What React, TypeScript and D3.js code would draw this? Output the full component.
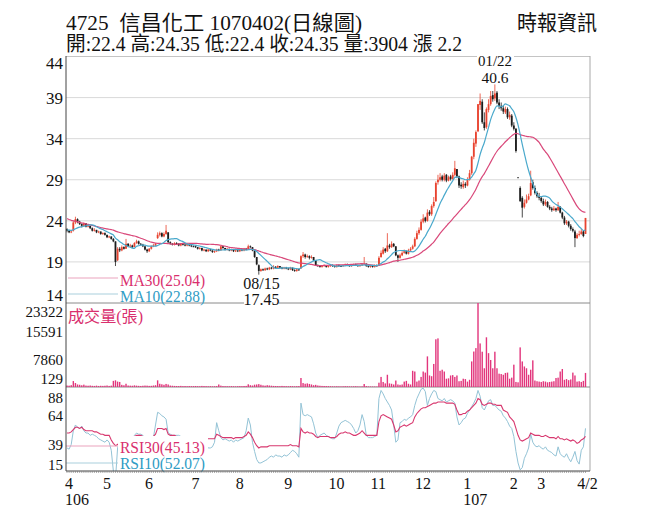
import React from 'react';
import * as d3 from 'd3';

const W = 656;
const H = 525;

const PINK = '#d92f6e';
const TEAL = '#2f9cc4';
const UP = '#e8432f';
const DOWN = '#1c1c1c';
const SERIF = '"Liberation Serif", "Times New Roman", serif';
const CJK = '"Liberation Serif", "Noto Sans CJK TC", serif';

// axis ticks / labels
const monthTicks = [0, 18, 38, 60, 81, 104, 125, 145, 166, 189, 211, 224];
const monthLabels = ['4', '5', '6', '7', '8', '9', '10', '11', '12', '1', '2', '3'];
const yearTicks = [0, 189];
const yearLabels = ['106', '107'];
const priceTicks = [44, 39, 34, 29, 24, 19, 14];
const priceGrid = [39, 34, 29, 24, 19];
const volTicks = [23322, 15591, 7860, 129];
const rsiTicks = [88, 64, 39, 15];

// closes before the first visible day (for the moving averages)
const priorCloses = [
  25.6, 25.8, 25.5, 25.9, 26.0, 25.7, 25.4, 25.2, 25.5, 25.1, 24.9, 24.7, 24.8, 24.5, 24.4,
  24.6, 24.2, 23.9, 23.6, 23.4, 23.2, 23.0, 22.9, 23.1, 22.8, 22.7, 22.9, 23.0, 22.8,
];

const opens = [
  // Apr
  23.0, 22.8, 22.6, 22.8, 23.8, 24.2, 23.9, 23.6, 23.4, 23.7, 23.3, 23.4, 23.1, 22.8, 22.9, 22.6, 22.7, 22.4,
  // May
  22.5, 22.3, 22.0, 22.1, 21.8, 21.5, 19.2, 20.6, 20.4, 20.8, 20.6, 21.2, 20.9, 21.0, 20.8, 21.3, 21.5, 21.2, 21.1, 20.9,
  // Jun
  20.5, 20.3, 20.6, 20.9, 21.0, 21.9, 22.3, 22.5, 22.1, 22.4, 22.6, 21.4, 21.2, 21.1, 21.3, 21.2, 21.0, 21.2, 21.1, 21.0, 21.2, 21.0,
  // Jul
  20.9, 20.9, 20.8, 20.6, 20.7, 20.4, 20.5, 20.3, 20.5, 20.4, 20.2, 20.3, 20.5, 20.4, 20.9, 20.7, 20.5, 20.6, 20.4, 20.5, 20.3,
  // Aug
  20.4, 20.3, 20.5, 20.4, 20.6, 20.5, 20.9, 20.8, 20.4, 19.6, 18.6, 17.9, 18.1, 18.0, 18.2, 18.1, 18.3, 18.2, 18.4, 18.3, 18.5, 18.3, 18.2,
  // Sep
  18.3, 18.2, 18.1, 18.3, 18.0, 17.9, 18.1, 18.2, 19.7, 19.9, 19.6, 19.7, 19.5, 19.6, 19.2, 18.6, 18.5, 18.4, 18.5, 18.6, 18.4,
  // Oct
  18.5, 18.6, 18.5, 18.4, 18.6, 18.5, 18.5, 18.6, 18.7, 18.6, 18.5, 18.6, 18.7, 18.6, 18.5, 18.6, 18.7, 18.8, 18.5, 18.4,
  // Nov
  18.5, 18.4, 18.6, 18.6, 19.6, 20.0, 20.6, 20.3, 21.0, 20.8, 21.2, 20.9, 19.8, 19.5, 19.8, 20.1, 20.3, 20.0, 20.4, 20.6, 20.9,
  // Dec
  21.8, 22.5, 22.9, 23.9, 24.4, 24.0, 25.1, 24.8, 25.8, 26.4, 28.7, 29.0, 29.4, 29.0, 29.6, 28.9, 29.4, 29.1, 29.6, 30.3, 29.4, 28.4, 28.1,
  // Jan
  28.5, 28.3, 29.0, 29.8, 31.8, 33.4, 34.9, 38.1, 38.5, 36.0, 35.4, 37.5, 38.2, 39.3, 38.9, 39.6, 38.4, 38.0, 37.7, 37.2, 37.6, 36.6,
  // Feb
  36.8, 35.6, 35.2, 29.3, 28.0, 26.8, 25.7, 26.2, 26.6, 27.1, 28.7, 28.0, 27.4,
  // Mar
  27.0, 26.8, 26.4, 26.0, 26.3, 25.7, 25.5, 25.3, 25.5, 25.3, 25.7, 25.0, 24.4, 23.7, 23.9, 23.4, 23.0, 22.7, 21.9, 22.3, 22.4, 22.7,
  // Apr 2
  22.4,
];

const highs = [
  23.1, 22.9, 22.9, 24.0, 24.5, 24.3, 24.0, 23.7, 23.8, 23.7, 23.6, 23.4, 23.2, 23.1, 22.9, 22.8, 22.7, 22.6,
  22.6, 22.3, 22.2, 22.1, 21.9, 21.5, 20.8, 20.8, 21.0, 20.9, 21.8, 21.3, 21.2, 21.1, 21.4, 21.7, 21.6, 21.3, 21.2, 20.9,
  20.6, 20.7, 21.0, 21.2, 21.3, 22.6, 22.7, 22.6, 22.6, 23.5, 22.6, 21.5, 21.3, 21.4, 21.4, 21.3, 21.3, 21.3, 21.2, 21.3, 21.2, 21.1,
  21.0, 21.0, 20.8, 20.8, 20.7, 20.6, 20.5, 20.6, 20.6, 20.4, 20.4, 20.6, 20.6, 21.0, 20.9, 20.7, 20.7, 20.6, 20.6, 20.5, 20.5,
  20.5, 20.6, 20.6, 20.7, 20.7, 21.1, 21.0, 20.8, 20.4, 19.6, 18.7, 18.2, 18.2, 18.3, 18.3, 18.4, 18.4, 18.6, 18.5, 18.6, 18.5, 18.4, 18.4,
  18.4, 18.3, 18.4, 18.3, 18.1, 18.2, 18.2, 19.8, 20.2, 20.0, 19.9, 19.8, 19.8, 19.6, 19.2, 18.7, 18.6, 18.6, 18.7, 18.6, 18.6,
  18.7, 18.7, 18.6, 18.7, 18.7, 18.6, 18.7, 18.8, 18.8, 18.7, 18.7, 18.8, 18.8, 18.7, 18.7, 18.8, 19.6, 18.8, 18.6, 18.6,
  18.6, 18.7, 18.7, 19.7, 20.4, 20.8, 20.7, 22.5, 21.2, 21.5, 21.3, 20.9, 19.9, 20.0, 20.3, 20.5, 20.4, 20.6, 20.8, 21.1, 22.0,
  22.8, 23.2, 24.2, 24.8, 24.5, 25.4, 25.3, 26.0, 26.9, 28.8, 29.6, 29.8, 29.6, 29.8, 29.7, 29.5, 29.6, 29.9, 31.3, 30.3, 29.5, 28.7, 28.9,
  28.7, 29.3, 30.2, 31.9, 34.0, 35.0, 38.2, 39.5, 38.8, 37.2, 37.8, 38.8, 39.8, 39.8, 40.6, 39.8, 38.8, 38.4, 38.0, 37.9, 37.8, 37.3,
  37.0, 36.0, 35.3, 29.3, 28.2, 27.0, 26.6, 27.2, 27.3, 30.1, 29.0, 28.3, 27.6,
  27.4, 27.0, 26.7, 26.6, 26.4, 25.9, 25.7, 25.8, 25.6, 26.3, 25.8, 25.1, 24.6, 24.1, 24.0, 23.6, 23.2, 22.9, 22.5, 22.8, 23.0, 22.8,
  24.35,
];

const lows = [
  22.6, 22.5, 22.5, 22.7, 23.6, 23.7, 23.5, 23.2, 23.3, 23.2, 23.2, 23.0, 22.7, 22.7, 22.5, 22.5, 22.3, 22.3,
  22.2, 21.9, 21.9, 21.7, 21.4, 18.5, 19.1, 20.2, 20.3, 20.5, 20.6, 20.8, 20.8, 20.7, 20.8, 21.2, 21.1, 21.0, 20.8, 20.4,
  20.1, 20.2, 20.5, 20.8, 20.9, 21.8, 22.1, 22.0, 22.0, 22.3, 21.3, 21.1, 21.0, 21.0, 21.1, 20.9, 20.9, 21.0, 20.9, 20.9, 20.9, 20.8,
  20.8, 20.7, 20.5, 20.5, 20.3, 20.3, 20.2, 20.2, 20.3, 20.1, 20.1, 20.2, 20.3, 20.4, 20.6, 20.4, 20.4, 20.3, 20.3, 20.2, 20.2,
  20.2, 20.2, 20.3, 20.3, 20.4, 20.5, 20.7, 20.3, 19.5, 18.6, 17.45, 17.8, 17.9, 17.9, 18.0, 18.0, 18.1, 18.1, 18.2, 18.2, 18.2, 18.1, 18.1,
  18.1, 18.0, 18.0, 17.9, 17.8, 17.8, 17.9, 18.2, 19.5, 19.4, 19.5, 19.3, 19.4, 19.1, 18.5, 18.4, 18.3, 18.3, 18.4, 18.3, 18.3,
  18.4, 18.4, 18.3, 18.3, 18.4, 18.4, 18.4, 18.5, 18.5, 18.4, 18.4, 18.5, 18.5, 18.4, 18.4, 18.5, 18.6, 18.4, 18.3, 18.3,
  18.3, 18.3, 18.4, 18.5, 19.5, 19.9, 20.1, 20.2, 20.6, 20.7, 20.8, 19.7, 19.0, 19.4, 19.7, 20.0, 19.9, 19.9, 20.3, 20.5, 20.8,
  21.7, 22.3, 22.8, 23.7, 23.8, 23.9, 24.6, 24.6, 25.6, 26.3, 28.4, 28.8, 28.8, 28.8, 28.7, 28.8, 28.9, 29.0, 29.4, 29.2, 28.0, 27.9, 27.9,
  28.0, 28.2, 28.9, 29.6, 31.5, 33.0, 34.8, 37.5, 35.8, 35.0, 35.2, 37.2, 38.0, 38.5, 38.6, 38.2, 37.6, 37.4, 37.0, 37.0, 36.4, 36.3,
  35.4, 35.0, 32.3, 29.3, 26.3, 24.4, 25.5, 26.1, 26.5, 27.0, 27.8, 27.2, 26.8,
  26.5, 26.2, 25.8, 25.8, 25.6, 25.3, 25.1, 25.2, 25.1, 25.2, 24.9, 24.2, 23.5, 23.5, 23.2, 22.8, 22.6, 20.8, 21.8, 22.1, 22.3, 22.0,
  22.4,
];

const closes = [
  22.8, 22.6, 22.7, 23.8, 24.2, 23.9, 23.6, 23.4, 23.7, 23.3, 23.4, 23.1, 22.8, 22.9, 22.6, 22.7, 22.4, 22.5,
  22.3, 22.0, 22.1, 21.8, 21.5, 19.0, 20.6, 20.4, 20.8, 20.6, 21.2, 20.9, 21.0, 20.8, 21.3, 21.5, 21.2, 21.1, 20.9, 20.5,
  20.3, 20.6, 20.9, 21.0, 21.2, 22.3, 22.5, 22.1, 22.4, 22.8, 21.4, 21.2, 21.1, 21.3, 21.2, 21.0, 21.2, 21.1, 21.0, 21.2, 21.0, 20.9,
  20.9, 20.8, 20.6, 20.7, 20.4, 20.5, 20.3, 20.5, 20.4, 20.2, 20.3, 20.5, 20.4, 20.9, 20.7, 20.5, 20.6, 20.4, 20.5, 20.3, 20.4,
  20.3, 20.5, 20.4, 20.6, 20.5, 20.9, 20.8, 20.4, 19.6, 18.7, 17.9, 18.1, 18.0, 18.2, 18.1, 18.3, 18.2, 18.4, 18.3, 18.5, 18.3, 18.2, 18.3,
  18.2, 18.1, 18.3, 18.0, 17.9, 18.1, 18.0, 19.7, 19.9, 19.6, 19.7, 19.5, 19.6, 19.2, 18.6, 18.5, 18.4, 18.5, 18.6, 18.4, 18.5,
  18.6, 18.5, 18.4, 18.6, 18.5, 18.5, 18.6, 18.7, 18.6, 18.5, 18.6, 18.7, 18.6, 18.5, 18.6, 18.7, 18.8, 18.5, 18.4, 18.5,
  18.4, 18.6, 18.5, 19.5, 20.1, 20.5, 20.3, 21.0, 20.8, 21.2, 20.9, 19.8, 19.5, 19.8, 20.1, 20.3, 20.0, 20.4, 20.6, 20.9, 21.8,
  22.5, 22.9, 23.9, 24.3, 24.0, 25.0, 24.8, 25.8, 26.3, 28.6, 29.0, 29.3, 29.0, 29.5, 28.9, 29.3, 29.1, 29.6, 30.4, 29.4, 28.3, 28.2, 28.5,
  28.3, 29.0, 29.8, 31.8, 33.5, 34.8, 38.2, 38.6, 36.0, 35.3, 37.6, 38.2, 39.2, 38.8, 39.5, 38.4, 38.0, 37.7, 37.3, 37.6, 36.6, 36.9,
  35.6, 35.2, 32.5, 29.3, 26.4, 25.6, 26.2, 26.6, 27.0, 28.6, 28.0, 27.4, 27.0,
  26.8, 26.4, 26.0, 26.3, 25.7, 25.5, 25.3, 25.5, 25.3, 25.7, 25.0, 24.4, 23.7, 23.9, 23.4, 23.0, 22.8, 21.9, 22.3, 22.4, 22.7, 22.15,
  24.35,
];

const volumes = [
  420, 380, 510, 1650, 1100, 700, 620, 480, 650, 400, 360, 420, 330, 300, 380, 290, 340, 310,
  350, 420, 300, 380, 1700, 1850, 1500, 1400, 600, 480, 900, 420, 380, 350, 460, 380, 320, 290, 350, 400,
  380, 310, 330, 420, 500, 1850, 900, 750, 620, 850, 700, 400, 350, 300, 280, 260, 310, 250, 270, 230, 260, 240,
  250, 280, 230, 220, 300, 260, 240, 210, 230, 200, 220, 250, 700, 380, 260, 240, 230, 210, 250, 220, 200,
  230, 260, 240, 280, 300, 750, 500, 420, 650, 700, 800, 620, 450, 380, 500, 420, 360, 300, 280, 260, 240, 300, 250,
  230, 210, 260, 240, 200, 230, 260, 2500, 1100, 900, 1000, 850, 700, 500, 600, 420, 350, 300, 280, 260, 240,
  220, 200, 180, 210, 190, 170, 200, 230, 210, 190, 180, 200, 220, 170, 150, 180, 830, 250, 180, 160,
  150, 140, 129, 1200, 2800, 1400, 1000, 3400, 1000, 900, 700, 1800, 700, 600, 700, 1500, 1700, 900, 700, 4500, 4300,
  1500, 1800, 2800, 4300, 4000, 8500, 3200, 3000, 6400, 13250, 13500, 4500, 4800, 4300, 2300, 2400, 3200, 3300, 2800, 3200, 1600, 1700, 2300,
  2200, 1500, 2000, 7100, 9850, 10800, 23322, 12100, 9800, 5200, 13800, 9400, 7500, 5200, 9800, 5200, 3700, 3600, 3400, 3900, 4000, 2300,
  2600, 6200, 1400, 1300, 11000, 7100, 5700, 5200, 3400, 4800, 7400, 1800, 1600,
  1500, 1400, 1600, 1500, 1300, 1400, 1500, 1600, 2500, 2600, 4300, 5000, 2000, 2200, 1900, 2100, 4000, 3200, 1500, 1600, 1400, 1700,
  3904,
];

const rsi10 = [
  35, 34, 38, 50, 55, 53, 52, 54, 50, 48, 48, 46, 47, 46, 45, 43, 42, 41,
  40, 42, 40, 33, 15, 8, 35, 40, 42, 41, 44, 42, 43, 42, 46, 48, 47, 47, 46, 44,
  43, 43, 43, 44, 55, 66, 65, 63, 62, 60, 48, 47, 46, 46, 46, 46, 45, 44, 43, 42, 43, 42,
  42, 41, 42, 40, 41, 40, 38, 35, 35, 36, 40, 57, 50, 44, 42, 43, 42, 41, 42, 40, 42,
  41, 42, 43, 44, 50, 61, 55, 40, 32, 25, 22, 22, 23, 24, 25, 27, 28, 27, 29, 28, 28, 27, 29,
  28, 29, 31, 33, 32, 30, 27, 74, 64, 63, 64, 63, 62, 56, 48, 44, 46, 47, 48, 46, 45,
  44, 43, 43, 48, 54, 57, 58, 59, 58, 57, 55, 52, 48, 50, 55, 64, 58, 46, 44, 44,
  44, 45, 46, 78, 85, 82, 78, 75, 72, 68, 55, 40, 42, 57, 58, 60, 59, 61, 62, 64, 72,
  78, 82, 86, 87, 84, 72, 78, 82, 85, 84, 78, 77, 76, 78, 75, 76, 77, 76, 74, 62, 55, 57, 60,
  61, 65, 68, 71, 74, 78, 85, 80, 70, 68, 72, 76, 77, 72, 72, 70, 68, 67, 63, 61, 58, 54,
  52, 45, 32, 22, 16, 18, 26, 30, 35, 47, 40, 37, 36,
  37, 35, 34, 36, 33, 32, 31, 29, 28, 36, 30, 28, 27, 30, 26, 23, 27, 32, 24, 21, 33, 36,
  52.07,
];

const rsi30 = [
  48, 48, 49, 51, 53, 53, 52, 53, 51, 50, 50, 50, 50, 49, 49, 48, 47, 47,
  46, 46, 46, 42, 39, 37, 38, 40, 42, 43, 44, 43, 44, 44, 45, 46, 46, 46, 45, 45,
  45, 45, 45, 45, 47, 52, 52, 52, 51, 52, 47, 46, 46, 46, 45, 45, 45, 45, 44, 44, 44, 44,
  44, 44, 44, 44, 44, 44, 43, 43, 43, 43, 43, 47, 46, 45, 44, 44, 44, 44, 44, 43, 44,
  44, 44, 44, 45, 46, 49, 47, 44, 40, 37, 35, 36, 36, 36, 36, 37, 37, 37, 37, 37, 37, 37, 37,
  37, 37, 38, 37, 37, 37, 36, 52, 49, 48, 49, 48, 48, 47, 45, 44, 45, 45, 45, 45, 45,
  44, 44, 44, 45, 47, 48, 48, 49, 48, 48, 47, 46, 46, 47, 48, 50, 48, 46, 46, 46,
  46, 46, 46, 58, 63, 64, 63, 62, 61, 60, 55, 49, 50, 53, 54, 55, 54, 55, 56, 57, 62,
  65, 67, 69, 70, 70, 71, 72, 73, 74, 74, 75, 75, 75, 75, 74, 74, 74, 74, 73, 68, 64, 64, 65,
  65, 67, 68, 70, 72, 74, 78, 77, 73, 72, 73, 74, 74, 73, 73, 72, 72, 72, 68, 67, 66, 62,
  60, 58, 52, 46, 42, 41, 42, 43, 44, 48, 47, 46, 46,
  46, 45, 45, 46, 45, 44, 44, 44, 43, 45, 43, 43, 42, 43, 42, 41, 42, 41, 39, 40, 42, 43,
  45.13,
];

const clamp = (v: number, lo: number, hi: number) => Math.max(lo, Math.min(hi, v));

export default function App() {
  const n = closes.length;
  const left = 66;
  const right = 590;

  const x = d3.scaleLinear().domain([0, n - 1]).range([67, 585.5]);
  const yP = d3.scaleLinear().domain([14, 44]).range([303, 56.5]);
  const yV = d3.scaleLinear().domain([0, 23322]).range([387, 303]);
  const yR = d3.scaleLinear().domain([15, 88]).range([471, 387]);

  // moving averages of the close
  const all = [...priorCloses, ...closes];
  const movingAvg = (p: number) =>
    closes.map((_, i) => d3.mean(all.slice(i + priorCloses.length - p + 1, i + priorCloses.length + 1)) as number);
  const ma10 = movingAvg(10);
  const ma30 = movingAvg(30);

  const priceLine = d3.line<number>().x((_, i) => x(i)).y((d) => yP(d)).curve(d3.curveMonotoneX);
  const rsiLine = d3.line<number>().x((_, i) => x(i)).y((d) => yR(d));

  return (
    <svg
      width={W}
      height={H}
      style={{ position: 'absolute', left: 0, top: 0, background: '#fff', display: 'block' }}
    >
      <defs>
        <clipPath id="rsiClip">
          <rect x={left} y={387} width={right - left} height={84} />
        </clipPath>
      </defs>
      <rect width={W} height={H} fill="#fff" />

      {/* title */}
      <text x={66} y={30} fontFamily={CJK} fontSize={21} fill="#111" textLength={296}
        lengthAdjust="spacingAndGlyphs" style={{ whiteSpace: 'pre' }}>
        {'4725  信昌化工 1070402(日線圖)'}
      </text>
      <text x={517} y={30} fontFamily={CJK} fontSize={21} fill="#111" textLength={80}
        lengthAdjust="spacingAndGlyphs">時報資訊</text>
      <text x={66} y={51} fontFamily={CJK} fontSize={20} fill="#111" textLength={396}
        lengthAdjust="spacingAndGlyphs" style={{ whiteSpace: 'pre' }}>
        {'開:22.4 高:24.35 低:22.4 收:24.35 量:3904 漲 2.2'}
      </text>

      {/* price grid */}
      {priceGrid.map((v) => (
        <line key={v} x1={left} x2={right} y1={yP(v)} y2={yP(v)} stroke="#d9d9d9" strokeWidth={1} />
      ))}

      {/* frame */}
      <line x1={left} x2={right} y1={56.5} y2={56.5} stroke="#c4c4c4" />
      <line x1={right} x2={right} y1={56} y2={471} stroke="#a8a8a8" />
      <line x1={left} x2={right} y1={303} y2={303} stroke="#8a8a8a" />
      <line x1={left} x2={right} y1={387} y2={387} stroke="#8a8a8a" />

      {/* candles */}
      {closes.map((c, i) => {
        const o = opens[i];
        const up = c > o;
        const col = up ? UP : DOWN;
        const cx = x(i);
        const top = yP(Math.max(o, c));
        const bot = yP(Math.min(o, c));
        return (
          <g key={i}>
            <line x1={cx} x2={cx} y1={yP(highs[i])} y2={yP(lows[i])} stroke={col} strokeWidth={0.8} />
            <rect x={cx - 0.9} width={1.8} y={top} height={Math.max(bot - top, 0.9)} fill={col} />
          </g>
        );
      })}

      {/* moving averages */}
      <path d={priceLine(ma30) || ''} fill="none" stroke="#d9487a" strokeWidth={1.2} />
      <path d={priceLine(ma10) || ''} fill="none" stroke="#4aa9cc" strokeWidth={1.2} />

      {/* price legend */}
      <line x1={68} x2={118} y1={278} y2={278} stroke="#eaa3bd" strokeWidth={1} />
      <text x={120} y={286} fontFamily={SERIF} fontSize={16} fill={PINK} textLength={85}
        lengthAdjust="spacingAndGlyphs">MA30(25.04)</text>
      <line x1={68} x2={118} y1={294} y2={294} stroke="#a9cfdc" strokeWidth={1} />
      <text x={120} y={302} fontFamily={SERIF} fontSize={16} fill={TEAL} textLength={85}
        lengthAdjust="spacingAndGlyphs">MA10(22.88)</text>

      {/* low / high annotations */}
      <text x={261.5} y={289} fontFamily={SERIF} fontSize={16} fill="#111" textAnchor="middle">08/15</text>
      <rect x={244} y={292} width={35} height={14} fill="#fff" />
      <text x={261.5} y={305} fontFamily={SERIF} fontSize={16} fill="#111" textAnchor="middle">17.45</text>
      <rect x={477} y={53} width={37} height={14} fill="#fff" />
      <text x={495} y={66} fontFamily={SERIF} fontSize={15} fill="#111" textAnchor="middle"
        textLength={34} lengthAdjust="spacingAndGlyphs">01/22</text>
      <text x={495} y={83} fontFamily={SERIF} fontSize={15} fill="#111" textAnchor="middle"
        textLength={27} lengthAdjust="spacingAndGlyphs">40.6</text>

      {/* volume */}
      {volumes.map((v, i) => (
        <rect key={i} x={x(i) - 0.7} width={1.4} y={yV(v)} height={387 - yV(v)} fill="#e2357c" />
      ))}
      <text x={68} y={322} fontFamily={CJK} fontSize={16} fill={PINK} textLength={75}
        lengthAdjust="spacingAndGlyphs">成交量(張)</text>

      {/* RSI */}
      <g clipPath="url(#rsiClip)">
        <path d={rsiLine(rsi10) || ''} fill="none" stroke="#93c3d6" strokeWidth={1} />
        <path d={rsiLine(rsi30) || ''} fill="none" stroke="#d8386f" strokeWidth={1.1} />
      </g>
      <rect x={118} y={436} width={90} height={34} fill="#fff" />
      <line x1={left} x2={118} y1={446} y2={446} stroke="#eaa3bd" strokeWidth={1} />
      <text x={120} y={453} fontFamily={SERIF} fontSize={16} fill={PINK} textLength={85}
        lengthAdjust="spacingAndGlyphs">RSI30(45.13)</text>
      <line x1={left} x2={118} y1={463} y2={463} stroke="#a9cfdc" strokeWidth={1} />
      <text x={120} y={469} fontFamily={SERIF} fontSize={16} fill={TEAL} textLength={85}
        lengthAdjust="spacingAndGlyphs">RSI10(52.07)</text>

      {/* left axis and bottom axis */}
      <line x1={left} x2={left} y1={56} y2={471} stroke="#444" strokeWidth={1} />
      <line x1={left} x2={right} y1={471} y2={471} stroke="#444" strokeWidth={1} />
      {closes.map((_, i) => (
        <line key={i} x1={x(i)} x2={x(i)} y1={471} y2={473} stroke="#777" strokeWidth={0.6} />
      ))}

      {/* y labels */}
      {priceTicks.map((v) => (
        <text key={v} x={63} y={clamp(yP(v) + 6, 69, 301)} fontFamily={SERIF} fontSize={17}
          fill="#111" textAnchor="end">{v}</text>
      ))}
      {volTicks.map((v) => (
        <text key={v} x={63} y={clamp(yV(v) + 6, 317, 384)} fontFamily={SERIF} fontSize={15}
          fill="#111" textAnchor="end">{v}</text>
      ))}
      {rsiTicks.map((v) => (
        <text key={v} x={63} y={clamp(yR(v) + 6.5, 403, 470)} fontFamily={SERIF} fontSize={15}
          fill="#111" textAnchor="end">{v}</text>
      ))}

      {/* x labels */}
      {monthTicks.map((t, k) => (
        <text key={t} x={x(t) - 2} y={489} fontFamily={SERIF} fontSize={16} fill="#111">{monthLabels[k]}</text>
      ))}
      <text x={x(n - 1) + 2} y={489} fontFamily={SERIF} fontSize={16} fill="#111" textAnchor="middle">4/2</text>
      {yearTicks.map((t, k) => (
        <text key={t} x={x(t) - 2} y={505} fontFamily={SERIF} fontSize={16} fill="#111">{yearLabels[k]}</text>
      ))}
    </svg>
  );
}
